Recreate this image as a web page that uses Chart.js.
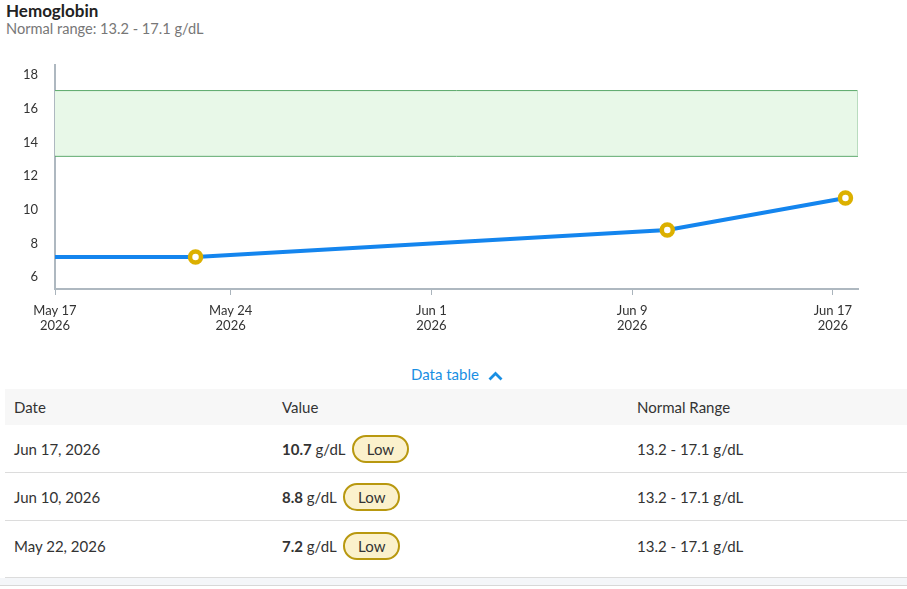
<!DOCTYPE html>
<html lang="en">
<head>
  <meta charset="UTF-8">
  <title>Hemoglobin</title>
  <script src="https://cdn.jsdelivr.net/npm/chart.js"></script>
  <style>
    body {
      margin: 0;
      width: 907px;
      height: 589px;
      overflow: hidden;
      font-family: Lato, "Noto Sans", sans-serif;
      color: #333;
      background: #fff;
      position: relative;
    }
    .title {
      position: absolute;
      left: 6px;
      top: 0px;
      font-size: 17px;
      font-weight: bold;
      color: #222;
    }
    .subtitle {
      position: absolute;
      left: 6px;
      top: 20px;
      font-size: 14.6px;
      color: #777;
    }
    .chart-box {
      position: absolute;
      left: 0;
      top: 40px;
      width: 907px;
      height: 300px;
    }
    .toggle {
      position: absolute;
      left: 411px;
      top: 365px;
      font-size: 15px;
      color: #1a8fe3;
    }
    .toggle svg { vertical-align: -1px; margin-left: 9px; }
    table {
      position: absolute;
      left: 5px;
      top: 389px;
      width: 902px;
      border-collapse: collapse;
      font-size: 15px;
    }
    th {
      background: #f7f7f7;
      font-weight: normal;
      text-align: left;
      height: 36px;
      padding: 0 0 0 9px;
    }
    td {
      height: 47px;
      padding: 0 0 0 9px;
      border-bottom: 1px solid #dcdcdc;
    }
    tr:last-child td { height: 49px; padding-bottom: 7px; border-bottom: 2px solid #dcdcdc; }
    .badge {
      display: inline-block;
      margin-left: 3px;
      padding: 2px 13px;
      border: 2px solid #b8980f;
      border-radius: 14px;
      background: #fbf1cc;
      line-height: 20px;
    }
    .footer {
      position: absolute;
      left: 0;
      top: 578px;
      width: 907px;
      height: 7px;
      background: #f4f6f9;
      border-bottom: 1px solid #d8d8d8;
    }
  </style>
</head>
<body>
  <div class="title">Hemoglobin</div>
  <div class="subtitle">Normal range: 13.2 - 17.1 g/dL</div>
  <div class="chart-box"><canvas id="hgbChart"></canvas></div>
  <div class="toggle">Data table<svg width="15" height="10" viewBox="0 0 15 10"><path d="M1.5 8.5 L7.5 2.5 L13.5 8.5" fill="none" stroke="#1a8fe3" stroke-width="2.8"/></svg></div>
  <table id="dataTable">
    <thead><tr><th style="width:259px">Date</th><th style="width:346px">Value</th><th>Normal Range</th></tr></thead>
    <tbody></tbody>
  </table>
  <div class="footer"></div>

  <script>
    // readings (days counted from May 17, 2026)
    var resultDates = ['May 22, 2026', 'Jun 10, 2026', 'Jun 17, 2026'];
    var resultDays = [5.6, 24.4, 31.5];
    var resultValues = [7.2, 8.8, 10.7];
    var resultFlags = ['Low', 'Low', 'Low'];

    var normalLow = 13.2;
    var normalHigh = 17.1;
    var unit = 'g/dL';

    var xTickDays = [0, 7, 15, 23, 31];
    var xTickLabels = [['May 17', '2026'], ['May 24', '2026'], ['Jun 1', '2026'], ['Jun 9', '2026'], ['Jun 17', '2026']];
    var yTicks = [6, 8, 10, 12, 14, 16, 18];

    // line starts at the left edge with the first reading
    var lineData = [{ x: 0, y: resultValues[0] }].concat(
      resultDays.map(function (d, i) { return { x: d, y: resultValues[i] }; })
    );

    // normal range band behind the line
    var rangeBand = {
      id: 'rangeBand',
      beforeDatasetsDraw: function (chart) {
        var ctx = chart.ctx, area = chart.chartArea, y = chart.scales.y;
        var top = y.getPixelForValue(normalHigh), bottom = y.getPixelForValue(normalLow);
        ctx.save();
        ctx.fillStyle = '#e8f8e8';
        ctx.fillRect(area.left, top, area.right - area.left, bottom - top);
        ctx.strokeStyle = '#5aa86a';
        ctx.lineWidth = 1;
        ctx.beginPath();
        ctx.moveTo(area.left, top + 0.5); ctx.lineTo(area.right, top + 0.5);
        ctx.moveTo(area.left, bottom + 0.5); ctx.lineTo(area.right, bottom + 0.5);
        ctx.stroke();
        ctx.strokeStyle = '#b9dcbf';
        ctx.beginPath();
        ctx.moveTo(area.right - 0.5, top); ctx.lineTo(area.right - 0.5, bottom);
        ctx.stroke();
        ctx.restore();
      }
    };

    var ctx = document.getElementById('hgbChart').getContext('2d');
    var hgbChart = new Chart(ctx, {
      type: 'line',
      data: {
        datasets: [{
          data: lineData,
          borderColor: '#1485ee',
          borderWidth: 4,
          tension: 0,
          pointRadius: lineData.map(function (p, i) { return i === 0 ? 0 : 5.5; }),
          pointBackgroundColor: '#fff',
          pointBorderColor: '#dcb000',
          pointBorderWidth: 4.5
        }]
      },
      options: {
        responsive: true,
        maintainAspectRatio: false,
        animation: false,
        layout: { padding: { top: 10, right: 49, left: 0, bottom: 0 } },
        plugins: { legend: { display: false }, tooltip: { enabled: false } },
        scales: {
          x: {
            type: 'linear',
            min: 0,
            max: 32,
            afterBuildTicks: function (s) { s.ticks = xTickDays.map(function (v) { return { value: v }; }); },
            afterFit: function (s) { s.height = 51; },
            ticks: {
              autoSkip: false,
              maxRotation: 0,
              padding: 8,
              color: '#333',
              font: { family: 'Lato, "Noto Sans", sans-serif', size: 13, lineHeight: 1.15 },
              callback: function (v) { return xTickLabels[xTickDays.indexOf(v)]; }
            },
            grid: { drawOnChartArea: false, drawTicks: true, tickLength: 6, color: '#aab4bc', lineWidth: 1 },
            border: { display: true, color: '#aeb8c0', width: 2 }
          },
          y: {
            min: 5.3,
            max: 18.6,
            afterBuildTicks: function (s) { s.ticks = yTicks.map(function (v) { return { value: v }; }); },
            afterFit: function (s) { s.width = 55; },
            ticks: {
              padding: 17,
              color: '#333',
              font: { family: 'Lato, "Noto Sans", sans-serif', size: 13 }
            },
            grid: { display: false, drawTicks: false },
            border: { display: true, color: '#aeb8c0', width: 2 }
          }
        }
      },
      plugins: [rangeBand]
    });

    // data table, newest first
    var tbody = document.querySelector('#dataTable tbody');
    for (var i = resultDates.length - 1; i >= 0; i--) {
      var tr = document.createElement('tr');
      tr.innerHTML = '<td>' + resultDates[i] + '</td>' +
        '<td><b>' + resultValues[i] + '</b> ' + unit + ' <span class="badge">' + resultFlags[i] + '</span></td>' +
        '<td>' + normalLow + ' - ' + normalHigh + ' ' + unit + '</td>';
      tbody.appendChild(tr);
    }
  </script>
</body>
</html>
